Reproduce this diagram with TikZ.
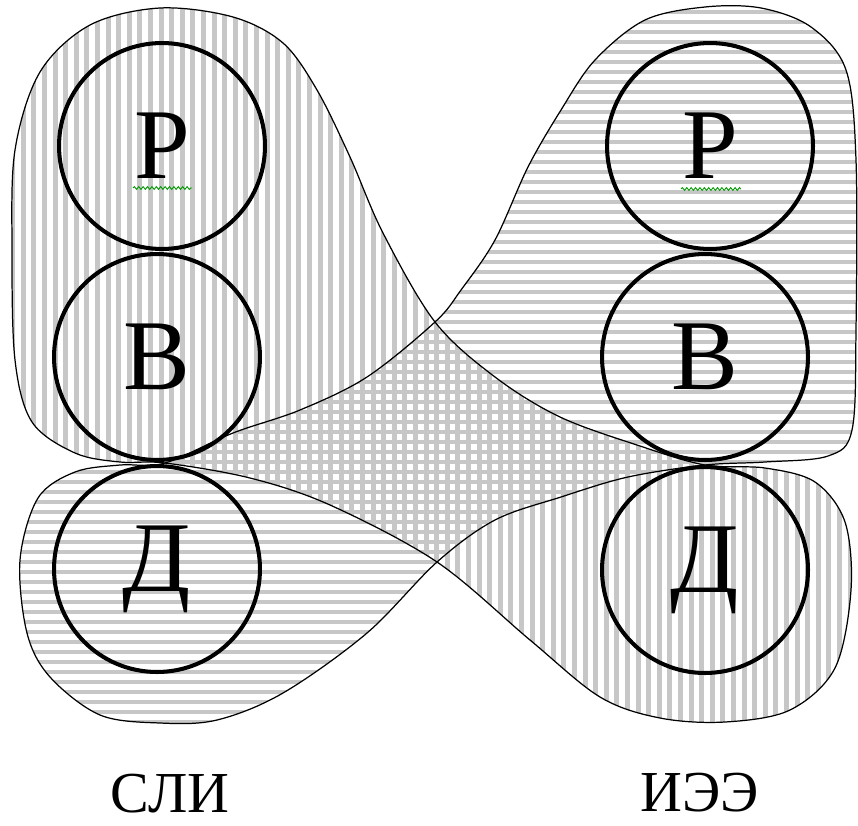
\documentclass[tikz,border=0pt]{standalone}
\usepackage{fontspec}
\setmainfont{Liberation Serif}
\usetikzlibrary{decorations.pathmorphing}

\newcommand{\sliblob}{plot[smooth cycle, tension=0.55] coordinates {
    (165,463) (250,478) (330,505) (437,562) (530,640) (600,697)
    (660,718) (725,722) (790,710) (835,668) (851,590) (845,522)
    (815,482) (765,468) (705,465) (640,446) (560,417) (495,377)
    (435,322) (383,233) (350,157) (317,90) (283,43) (233,17)
    (160,8) (90,25) (40,72) (15,150) (12,250) (15,360)
    (32,422) (75,453) (120,462)}}
\newcommand{\ieeblob}{plot[smooth cycle, tension=0.55] coordinates {
    (705,465) (765,462) (828,456) (852,430) (856,330) (856,160)
    (846,70) (811,27) (761,8) (705,7) (645,20) (595,60)
    (561,110) (528,167) (495,240) (461,290) (435,322) (367,377)
    (300,410) (233,433) (165,463) (120,465) (75,472) (38,498)
    (20,560) (27,633) (50,677) (100,715) (160,723) (217,720)
    (283,693) (367,633) (437,562) (495,520) (561,497) (628,477)}}

\begin{document}
\begin{tikzpicture}[
    x=0.02cm,
    y=-0.02cm,
    every node/.style={
        font=\fontsize{57}{60}\selectfont
    },
    ring/.style={
        circle,
        draw=black,
        line width=2.3pt,
        minimum size=4.12cm,
        inner sep=0pt
    },
    blobline/.style={
        draw=black,
        line width=0.7pt
    },
    vhatch/.style={
        black!22,
        line width=0.1cm
    },
    hhatch/.style={
        black!22,
        line width=0.085cm
    },
    caption/.style={
        font=\fontsize{33}{38}\selectfont,
        inner sep=0pt
    },
    spell/.style={
        green!60!black,
        line width=0.5pt,
        decorate,
        decoration={snake, amplitude=0.8pt, segment length=2.5pt}
    }
]

\useasboundingbox (0,0) rectangle (858,825);

\begin{scope}
    \clip \sliblob;
    \foreach \x in {2,12.6,...,860}
        \draw[vhatch] (\x,0) -- (\x,830);
\end{scope}

\begin{scope}
    \clip \ieeblob;
    \foreach \y in {2,12,...,830}
        \draw[hhatch] (0,\y) -- (860,\y);
\end{scope}

\draw[blobline] \sliblob;
\draw[blobline] \ieeblob;

\node[ring] (rL) at (162,146) {Р};
\node[ring] (vL) at (157,357) {В};
\node[ring] (dL) at (157,569) {Д};

\node[ring] (rR) at (710,146) {Р};
\node[ring] (vR) at (705,357) {В};
\node[ring] (dR) at (705,570) {Д};

\draw[spell] (133,188) -- (192,188);
\draw[spell] (681,189) -- (741,189);

\node[caption] (sli) at (170,794) {СЛИ};
\node[caption] (iee) at (700,793) {ИЭЭ};

\end{tikzpicture}
\end{document}
